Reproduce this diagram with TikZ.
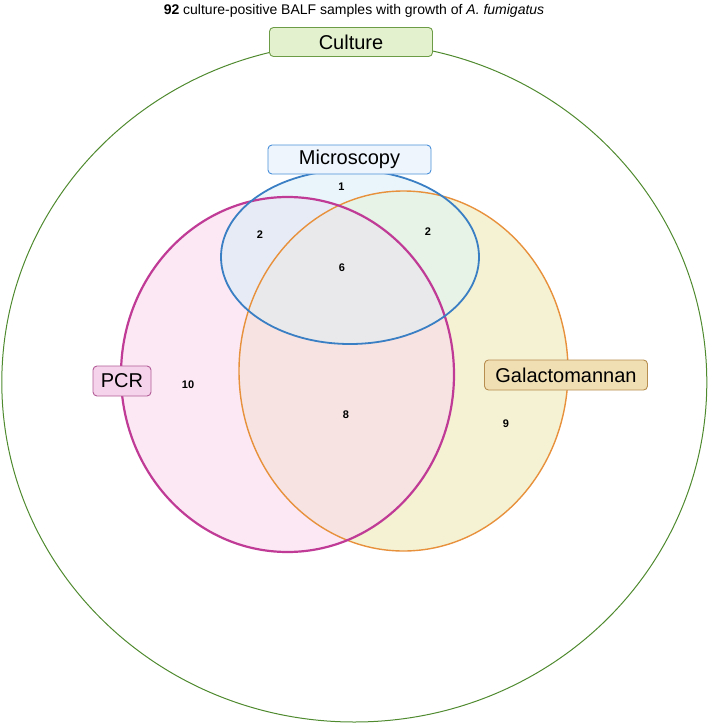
\documentclass[tikz,border=0pt]{standalone}
\usepackage{fontspec}
\setmainfont{Liberation Sans}
\usetikzlibrary{positioning}
\definecolor{cultLine}{HTML}{4F8A2F}
\definecolor{cultBox}{HTML}{E3F1CF}
\definecolor{cultEdge}{HTML}{6C9C45}
\definecolor{micLine}{HTML}{3A7EC3}
\definecolor{micFill}{HTML}{EAF5FB}
\definecolor{micBox}{HTML}{EEF5FD}
\definecolor{micEdge}{HTML}{4A90D9}
\definecolor{pcrLine}{HTML}{C03B96}
\definecolor{pcrFill}{HTML}{FBE8F4}
\definecolor{pcrBox}{HTML}{F5D3EA}
\definecolor{pcrEdge}{HTML}{B25D97}
\definecolor{galLine}{HTML}{E8913C}
\definecolor{galFill}{HTML}{F5F2D4}
\definecolor{galBox}{HTML}{F1DFB4}
\definecolor{galEdge}{HTML}{B78E4F}
\definecolor{pgFill}{HTML}{F6E3E2}
\definecolor{mgFill}{HTML}{E6F3E6}
\definecolor{mpFill}{HTML}{E7EBF5}
\definecolor{allFill}{HTML}{E9E9EC}

\begin{document}
\begin{tikzpicture}[x=1pt, y=-1pt,
  lab/.style={draw, rounded corners=4pt, minimum width=163pt, minimum height=29pt, inner sep=0pt, line width=0.9pt, font=\fontsize{20}{24}\selectfont},
  num/.style={inner sep=0pt, font=\fontsize{11}{13}\selectfont\bfseries},
  micE/.style={x radius=129, y radius=87},
  pcrE/.style={x radius=166.5, y radius=177.5},
  galE/.style={x radius=164.5, y radius=180}]
  \useasboundingbox (0,0) rectangle (709,725);
  \coordinate (mc) at (350,257);
  \coordinate (pc) at (287.5,374.5);
  \coordinate (gc) at (403.5,371);
  % outer set
  \draw[cultLine, line width=1pt] (354.3,382.3) ellipse [x radius=352.5, y radius=339.7];
  % single fills
  \fill[galFill] (gc) ellipse [galE];
  \fill[pcrFill] (pc) ellipse [pcrE];
  \fill[micFill] (mc) ellipse [micE];
  % overlaps
  \begin{scope}
    \clip (pc) ellipse [pcrE];
    \fill[pgFill] (gc) ellipse [galE];
  \end{scope}
  \begin{scope}
    \clip (mc) ellipse [micE];
    \fill[mgFill] (gc) ellipse [galE];
    \fill[mpFill] (pc) ellipse [pcrE];
    \clip (pc) ellipse [pcrE];
    \fill[allFill] (gc) ellipse [galE];
  \end{scope}
  % outlines
  \draw[galLine, line width=1.4pt] (gc) ellipse [galE];
  \draw[pcrLine, line width=2.2pt] (pc) ellipse [pcrE];
  \draw[micLine, line width=1.8pt] (mc) ellipse [micE];
  % labels
  \node[font=\fontsize{14}{16}\selectfont] (title) at (354,11) {\textbf{92} culture-positive BALF samples with growth of \textit{A. fumigatus}};
  \node[lab, fill=cultBox, draw=cultEdge] (culture) at (351,42) {Culture};
  \node[lab, fill=micBox, draw=micEdge] (micro) at (349.5,159.5) {Microscopy};
  \node[lab, fill=pcrBox, draw=pcrEdge, minimum width=58pt, minimum height=30pt] (pcr) at (122,381) {PCR};
  \node[lab, fill=galBox, draw=galEdge, minimum height=30pt] (galacto) at (566,375) {Galactomannan};
  % counts
  \node[num] (nM) at (341.5,186.5) {1};
  \node[num] (nMP) at (260,235) {2};
  \node[num] (nMG) at (428,232) {2};
  \node[num] (nAll) at (342,268) {6};
  \node[num] (nP) at (188,385) {10};
  \node[num] (nPG) at (346,415) {8};
  \node[num] (nG) at (506,424) {9};
\end{tikzpicture}
\end{document}
